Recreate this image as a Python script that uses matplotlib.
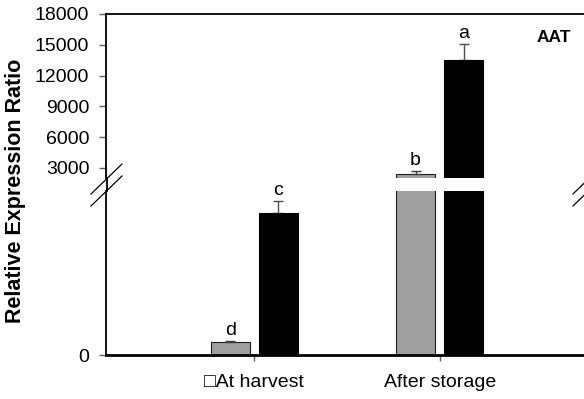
import matplotlib
matplotlib.use("Agg")
from matplotlib import pyplot as plt
from matplotlib.lines import Line2D

plt.rcParams['font.family'] = ['Liberation Sans', 'DejaVu Sans']

categories = ['\u25a1At harvest', 'After storage']
gray_vals = [122, 2420]
black_vals = [1296, 13512]
gray_err = [10, 290]
black_err = [115, 1600]
gray_letters = ['d', 'b']
black_letters = ['c', 'a']
top_ticks = [3000, 6000, 9000, 12000, 15000, 18000]

W, H = 584, 399
fig = plt.figure(figsize=(W / 100, H / 100), dpi=100)


def px_axes(x0, y0, x1, y1):
    # pixel box (top-left origin) -> figure axes
    return fig.add_axes([x0 / W, 1 - y1 / H, (x1 - x0) / W, (y1 - y0) / H])


ax_top = px_axes(106, 14, 588, 178)
ax_bot = px_axes(106, 191, 588, 355)

x = list(range(1, len(categories) + 1))
off = 0.13
bw = 0.21

for ax in (ax_top, ax_bot):
    ax.bar([i - off for i in x], gray_vals, width=bw, color='#a0a0a0',
           edgecolor='#202020', linewidth=0.8, zorder=2)
    ax.bar([i + off for i in x], black_vals, width=bw, color='black',
           edgecolor='black', linewidth=0.8, zorder=2)
    ax.errorbar([i - off for i in x], gray_vals, yerr=[[0] * len(x), gray_err],
                fmt='none', ecolor='#404040', elinewidth=1, capsize=3.6, zorder=3)
    ax.errorbar([i + off for i in x], black_vals, yerr=[[0] * len(x), black_err],
                fmt='none', ecolor='#505050', elinewidth=1, capsize=3.6, zorder=1)
    ax.set_xlim(0.2, 2.8)
    for xi, v, e, t in zip([i - off for i in x], gray_vals, gray_err, gray_letters):
        ax.annotate(t, (xi, v + e), xytext=(0, 1), textcoords='offset points',
                    ha='center', va='bottom', fontsize=14, annotation_clip=True)
    for xi, v, e, t in zip([i + off for i in x], black_vals, black_err, black_letters):
        ax.annotate(t, (xi, v + e), xytext=(0, 1), textcoords='offset points',
                    ha='center', va='bottom', fontsize=14, annotation_clip=True)

ax_top.set_ylim(2000, 18000)
ax_top.set_yticks(top_ticks)
ax_top.set_xticks([])
ax_top.spines['bottom'].set_visible(False)
ax_top.spines['top'].set_linewidth(1.3)
ax_top.spines['left'].set_linewidth(1.3)
ax_top.tick_params(axis='y', length=5, width=1, color='#606060', pad=7, labelsize=14)

ax_bot.set_ylim(0, 1500)
ax_bot.set_yticks([0])
ax_bot.set_xticks(x)
ax_bot.set_xticklabels(categories)
ax_bot.spines['top'].set_visible(False)
ax_bot.spines['left'].set_linewidth(1.3)
ax_bot.spines['bottom'].set_linewidth(2)
ax_bot.tick_params(axis='y', length=5, width=1, color='#606060', pad=7, labelsize=14)
ax_bot.tick_params(axis='x', length=4, width=1, color='#606060', pad=10, labelsize=14)


def px_line(x0, y0, x1, y1, lw=1.0):
    fig.add_artist(Line2D([x0 / W, x1 / W], [1 - y0 / H, 1 - y1 / H],
                          transform=fig.transFigure, color='black', lw=lw))


# continuous left spine through the gap and break marks
px_line(106.5, 178, 106.5, 191, lw=1.3)
for dx in (0, 482):
    px_line(91 + dx, 194, 122 + dx, 164, lw=0.9)
    px_line(91 + dx, 206, 122 + dx, 176, lw=0.9)

fig.text(16 / W, 1 - 191 / H, 'Relative Expression Ratio', rotation=90,
         ha='center', va='center', fontsize=15.5, fontweight='bold')
fig.text(537 / W, 1 - 37 / H, 'AAT', ha='left', va='center',
         fontsize=12.5, fontweight='bold')

fig.savefig('out.png', dpi=100)
